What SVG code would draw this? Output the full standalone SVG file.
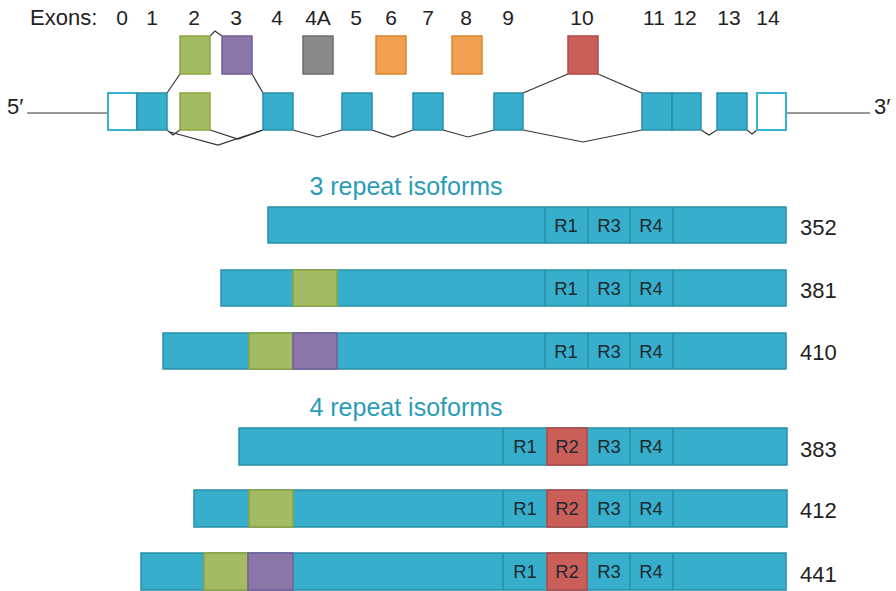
<svg xmlns="http://www.w3.org/2000/svg" width="896" height="591" viewBox="0 0 896 591">
  <style>
    text { font-family: "Liberation Sans", Arial, sans-serif; fill: #222; }
    .lbl { font-size: 21px; text-anchor: middle; }
    .head { font-size: 25px; fill: #2a9bb8; text-anchor: middle; }
    .num { font-size: 22px; }
    .r { font-size: 18.5px; text-anchor: middle; fill: #1d2a30; }
    .cyan { fill: #37aecb; stroke: #2a8ea8; stroke-width: 1.5; }
    .utr { fill: #fff; stroke: #37b3d2; stroke-width: 2; }
    .green { fill: #a3bb63; stroke: #8ea43e; stroke-width: 1.5; }
    .purple { fill: #8b76a8; stroke: #765e98; stroke-width: 1.5; }
    .red { fill: #ca5f59; stroke: #b04a44; stroke-width: 1.5; }
    .orange { fill: #f0a050; stroke: #d8862f; stroke-width: 1.5; }
    .gray { fill: #8a8a8a; stroke: #6c6c6c; stroke-width: 1.5; }
    .div { stroke: #2a8ea8; stroke-width: 1.5; fill: none; }
    .ln { stroke: #333; stroke-width: 1.2; fill: none; }
  </style>

  <!-- exon numbering -->
  <g id="exon-labels">
    <text x="30" y="25" style="font-size:22px">Exons:</text>
    <text class="lbl" x="122" y="25">0</text>
    <text class="lbl" x="152" y="25">1</text>
    <text class="lbl" x="194" y="25">2</text>
    <text class="lbl" x="236" y="25">3</text>
    <text class="lbl" x="277" y="25">4</text>
    <text class="lbl" x="318" y="25">4A</text>
    <text class="lbl" x="356" y="25">5</text>
    <text class="lbl" x="391" y="25">6</text>
    <text class="lbl" x="428" y="25">7</text>
    <text class="lbl" x="466" y="25">8</text>
    <text class="lbl" x="508" y="25">9</text>
    <text class="lbl" x="582" y="25">10</text>
    <text class="lbl" x="654" y="25">11</text>
    <text class="lbl" x="685" y="25">12</text>
    <text class="lbl" x="729" y="25">13</text>
    <text class="lbl" x="768" y="25">14</text>
  </g>

  <!-- splicing connectors and gene backbone -->
  <g id="connectors">
    <line class="ln" x1="27" y1="113" x2="108" y2="113"/>
    <line class="ln" x1="786" y1="113" x2="870" y2="113"/>
    <polyline class="ln" points="167,93 180,74"/>
    <polyline class="ln" points="210,36 215,31 222,36"/>
    <polyline class="ln" points="252,74 263,93"/>
    <polyline class="ln" points="167,130 173,135 180,130"/>
    <polyline class="ln" points="170,132 218,145 263,130"/>
    <polyline class="ln" points="210,130 238,139 263,130"/>
    <polyline class="ln" points="293,130 318,137 342,130"/>
    <polyline class="ln" points="372,130 393,137 413,130"/>
    <polyline class="ln" points="443,130 468,137 494,130"/>
    <polyline class="ln" points="523,93 568,74"/>
    <polyline class="ln" points="598,74 642,93"/>
    <polyline class="ln" points="523,130 583,142 642,130"/>
    <polyline class="ln" points="701,130 709,135 717,130"/>
    <polyline class="ln" points="747,130 752,134 757,130"/>
  </g>

  <!-- exons -->
  <g id="exon-0"><rect class="utr" x="108" y="93" width="29" height="37"/></g>
  <g id="exon-1"><rect class="cyan" x="137" y="93" width="30" height="37"/></g>
  <g id="exon-2"><rect class="green" x="180" y="93" width="30" height="37"/><rect class="green" x="180" y="36" width="30" height="38"/></g>
  <g id="exon-3"><rect class="purple" x="222" y="36" width="30" height="38"/></g>
  <g id="exon-4"><rect class="cyan" x="263" y="93" width="30" height="37"/></g>
  <g id="exon-4A"><rect class="gray" x="303" y="36" width="30" height="38"/></g>
  <g id="exon-5"><rect class="cyan" x="342" y="93" width="30" height="37"/></g>
  <g id="exon-6"><rect class="orange" x="376" y="36" width="30" height="38"/></g>
  <g id="exon-7"><rect class="cyan" x="413" y="93" width="30" height="37"/></g>
  <g id="exon-8"><rect class="orange" x="452" y="36" width="30" height="38"/></g>
  <g id="exon-9"><rect class="cyan" x="494" y="93" width="29" height="37"/></g>
  <g id="exon-10"><rect class="red" x="568" y="36" width="30" height="38"/></g>
  <g id="exon-11"><rect class="cyan" x="642" y="93" width="30" height="37"/></g>
  <g id="exon-12"><rect class="cyan" x="672" y="93" width="29" height="37"/></g>
  <g id="exon-13"><rect class="cyan" x="717" y="93" width="30" height="37"/></g>
  <g id="exon-14"><rect class="utr" x="757" y="93" width="29" height="37"/></g>

  <g id="ends">
    <text x="7" y="114" style="font-size:22px">5′</text>
    <text x="874" y="114" style="font-size:22px">3′</text>
  </g>

  <!-- 3R isoforms -->
  <text class="head" x="406" y="195">3 repeat isoforms</text>

  <g id="iso-352">
    <rect class="cyan" x="268" y="207" width="518" height="36"/>
    <path class="div" d="M545,207V243M588,207V243M630,207V243M673,207V243"/>
    <text class="r" x="566" y="231.5">R1</text><text class="r" x="609" y="231.5">R3</text><text class="r" x="651" y="231.5">R4</text>
    <text class="num" x="800" y="235">352</text>
  </g>
  <g id="iso-381">
    <rect class="cyan" x="221" y="270" width="565" height="36"/>
    <rect class="green" x="293" y="270" width="44" height="36"/>
    <path class="div" d="M545,270V306M588,270V306M630,270V306M673,270V306"/>
    <text class="r" x="566" y="294.5">R1</text><text class="r" x="609" y="294.5">R3</text><text class="r" x="651" y="294.5">R4</text>
    <text class="num" x="800" y="298">381</text>
  </g>
  <g id="iso-410">
    <rect class="cyan" x="163" y="333" width="623" height="36"/>
    <rect class="green" x="249" y="333" width="44" height="36"/>
    <rect class="purple" x="293" y="333" width="44" height="36"/>
    <path class="div" d="M545,333V369M588,333V369M630,333V369M673,333V369"/>
    <text class="r" x="566" y="357.5">R1</text><text class="r" x="609" y="357.5">R3</text><text class="r" x="651" y="357.5">R4</text>
    <text class="num" x="800" y="360">410</text>
  </g>

  <!-- 4R isoforms -->
  <text class="head" x="406" y="416">4 repeat isoforms</text>

  <g id="iso-383">
    <rect class="cyan" x="239" y="428" width="548" height="37"/>
    <rect class="red" x="547" y="428" width="40" height="37"/>
    <path class="div" d="M503,428V465M630,428V465M673,428V465"/>
    <text class="r" x="525" y="453">R1</text><text class="r" x="567" y="453">R2</text><text class="r" x="609" y="453">R3</text><text class="r" x="651" y="453">R4</text>
    <text class="num" x="800" y="457">383</text>
  </g>
  <g id="iso-412">
    <rect class="cyan" x="194" y="490" width="593" height="37"/>
    <rect class="green" x="249" y="490" width="44" height="37"/>
    <rect class="red" x="547" y="490" width="40" height="37"/>
    <path class="div" d="M503,490V527M630,490V527M673,490V527"/>
    <text class="r" x="525" y="515">R1</text><text class="r" x="567" y="515">R2</text><text class="r" x="609" y="515">R3</text><text class="r" x="651" y="515">R4</text>
    <text class="num" x="800" y="518">412</text>
  </g>
  <g id="iso-441">
    <rect class="cyan" x="141" y="553" width="645" height="37"/>
    <rect class="green" x="204" y="553" width="44" height="37"/>
    <rect class="purple" x="248" y="553" width="45" height="37"/>
    <rect class="red" x="547" y="553" width="40" height="37"/>
    <path class="div" d="M503,553V590M630,553V590M673,553V590"/>
    <text class="r" x="525" y="578">R1</text><text class="r" x="567" y="578">R2</text><text class="r" x="609" y="578">R3</text><text class="r" x="651" y="578">R4</text>
    <text class="num" x="800" y="582">441</text>
  </g>
</svg>
